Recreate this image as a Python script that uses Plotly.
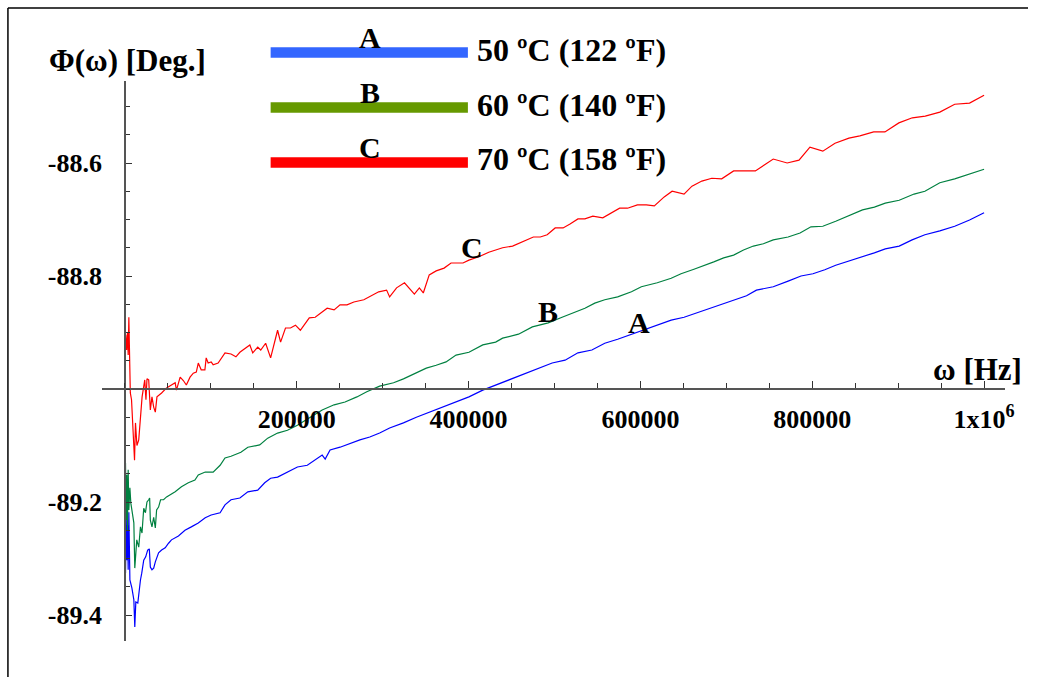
import plotly.graph_objects as go

W, H = 1037, 677
FONT = "Liberation Serif, Times New Roman, serif"

# ---------------- data ----------------
freq_A = [0, 700, 1500, 2300, 3000, 3800, 4600, 5800, 8100, 10400,
          11500, 12700, 15000, 16900, 18100, 19600, 21900, 24200, 26500, 28400,
          29600, 31500, 33500, 35400, 39200, 42700, 46900, 50800, 54200, 62300,
          69900, 77300, 85400, 93500, 100400, 110800, 116500, 123500, 133800, 143100,
          154600, 162700, 169600, 177700, 189200, 200800, 212300, 221500, 229600, 233100,
          238800, 250400, 261900, 273500, 285000, 296500, 308100, 324200, 339200, 354200,
          370400, 385400, 400400, 416500, 431500, 439600, 451200, 466200, 481200, 497300,
          512300, 527300, 543500, 558500, 573500, 589600, 604600, 619600, 635800, 650800,
          665800, 681900, 696900, 711900, 723500, 735000, 754600, 771900, 786900, 800800,
          814600, 827300, 843500, 856200, 872300, 885000, 901200, 916200, 931100, 948500,
          965800, 983100, 1000000]
phase_A = [-89.276, -89.326, -89.223, -89.303, -89.241, -89.320, -89.218, -89.338, -89.352, -89.373,
           -89.421, -89.377, -89.379, -89.350, -89.338, -89.326, -89.303, -89.297, -89.285, -89.283,
           -89.315, -89.320, -89.317, -89.306, -89.290, -89.285, -89.281, -89.273, -89.267, -89.260,
           -89.250, -89.244, -89.237, -89.228, -89.223, -89.219, -89.205, -89.196, -89.193, -89.182,
           -89.179, -89.166, -89.158, -89.156, -89.147, -89.138, -89.135, -89.126, -89.117, -89.124,
           -89.108, -89.103, -89.096, -89.090, -89.085, -89.078, -89.069, -89.060, -89.050, -89.041,
           -89.032, -89.023, -89.014, -89.002, -88.993, -88.988, -88.981, -88.972, -88.963, -88.954,
           -88.949, -88.936, -88.931, -88.919, -88.912, -88.903, -88.896, -88.887, -88.878, -88.873,
           -88.865, -88.857, -88.848, -88.841, -88.835, -88.825, -88.819, -88.809, -88.800, -88.796,
           -88.789, -88.781, -88.773, -88.768, -88.759, -88.752, -88.747, -88.736, -88.727, -88.720,
           -88.712, -88.701, -88.688]

freq_B = [0, 700, 1500, 2200, 3000, 3800, 4600, 5800, 6900, 10400,
          11500, 13800, 16100, 18100, 19900, 21900, 23900, 25700, 27700, 28800,
          29600, 31500, 33500, 35400, 36900, 39200, 41500, 45000, 48500, 58500,
          65800, 73800, 81500, 85400, 93500, 102700, 110800, 116500, 123500, 135000,
          143100, 156900, 166200, 177700, 189200, 200800, 215800, 229600, 243500, 256200,
          270000, 281500, 296500, 312700, 324200, 339200, 350800, 362300, 373800, 385400,
          400400, 416500, 431500, 439600, 458100, 474200, 492700, 508800, 523800, 535400,
          546900, 558500, 573500, 589600, 601100, 619600, 635800, 647300, 662300, 673800,
          685400, 696900, 708500, 720000, 731500, 743100, 754600, 771900, 785800, 798500,
          812300, 827300, 843500, 858500, 872300, 885000, 901200, 918500, 931100, 948500,
          965800, 983100, 1000000]
phase_B = [-89.179, -89.131, -89.232, -89.152, -89.250, -89.143, -89.214, -89.175, -89.202, -89.237,
           -89.317, -89.267, -89.280, -89.244, -89.255, -89.211, -89.219, -89.200, -89.196, -89.193,
           -89.232, -89.244, -89.227, -89.246, -89.214, -89.209, -89.196, -89.196, -89.191, -89.182,
           -89.173, -89.166, -89.161, -89.152, -89.147, -89.147, -89.135, -89.122, -89.119, -89.112,
           -89.103, -89.099, -89.087, -89.078, -89.073, -89.064, -89.050, -89.037, -89.028, -89.023,
           -89.014, -89.005, -88.995, -88.989, -88.982, -88.972, -88.963, -88.958, -88.952, -88.940,
           -88.935, -88.922, -88.917, -88.910, -88.903, -88.890, -88.883, -88.873, -88.864, -88.857,
           -88.848, -88.842, -88.837, -88.828, -88.819, -88.812, -88.804, -88.796, -88.788, -88.782,
           -88.775, -88.768, -88.763, -88.754, -88.747, -88.743, -88.736, -88.731, -88.724, -88.713,
           -88.712, -88.703, -88.692, -88.683, -88.678, -88.671, -88.666, -88.655, -88.650, -88.635,
           -88.628, -88.619, -88.611]

freq_C = [0, 1000, 2000, 3000, 3800, 4600, 5200, 5800, 6300, 7700,
          11200, 12300, 14000, 16100, 18100, 20000, 23100, 24500, 25700, 27700,
          29600, 31500, 33500, 35400, 37300, 39000, 42700, 48500, 54200, 58500,
          60000, 64300, 68000, 71500, 75800, 79600, 83100, 85400, 88800, 93100,
          94600, 96900, 100400, 102700, 108500, 114200, 116500, 123500, 129200, 133800,
          145400, 148800, 154600, 158100, 163800, 169600, 177700, 181200, 186900, 192700,
          198500, 204200, 214600, 221500, 229600, 235400, 243500, 250400, 258500, 266500,
          278100, 285000, 295400, 304600, 308100, 316200, 325400, 336900, 342700, 347300,
          354200, 362300, 371500, 379600, 393500, 400400, 411900, 423500, 431500, 439600,
          451200, 462700, 475400, 483500, 491500, 500800, 510000, 518100, 527300, 535400,
          544600, 556200, 566500, 575800, 585000, 596500, 606900, 616200, 627700, 636900,
          650800, 660000, 671500, 683100, 694600, 708500, 733800, 743100, 754600, 770800,
          784600, 797300, 812300, 826500, 842700, 855400, 871500, 884600, 900800, 916500,
          931500, 948500, 965800, 983100, 1000000]
phase_C = [-88.949, -88.904, -88.931, -88.901, -88.940, -88.873, -88.922, -88.952, -89.007, -89.019,
           -89.126, -89.060, -89.100, -89.090, -89.050, -89.014, -88.984, -89.019, -88.982, -88.984,
           -89.037, -89.014, -89.032, -89.041, -89.014, -89.012, -89.007, -88.998, -88.993, -88.989,
           -89.002, -88.979, -88.985, -88.993, -88.979, -88.972, -88.970, -88.954, -88.966, -88.966,
           -88.945, -88.954, -88.952, -88.957, -88.954, -88.941, -88.936, -88.938, -88.943, -88.935,
           -88.922, -88.936, -88.926, -88.931, -88.919, -88.945, -88.896, -88.917, -88.892, -88.892,
           -88.887, -88.896, -88.874, -88.873, -88.864, -88.857, -88.860, -88.851, -88.851, -88.846,
           -88.842, -88.837, -88.828, -88.825, -88.837, -88.821, -88.812, -88.832, -88.821, -88.830,
           -88.798, -88.791, -88.786, -88.777, -88.777, -88.772, -88.766, -88.758, -88.754, -88.750,
           -88.747, -88.740, -88.731, -88.731, -88.727, -88.715, -88.715, -88.708, -88.699, -88.699,
           -88.694, -88.697, -88.688, -88.680, -88.680, -88.674, -88.674, -88.676, -88.660, -88.650,
           -88.655, -88.641, -88.632, -88.627, -88.628, -88.614, -88.614, -88.604, -88.593, -88.600,
           -88.595, -88.572, -88.579, -88.565, -88.556, -88.552, -88.545, -88.545, -88.529, -88.520,
           -88.517, -88.510, -88.496, -88.494, -88.480]

series_names = ["A", "B", "C"]
legend_labels = ["50 ºC (122 ºF)", "60 ºC (140 ºF)", "70 ºC (158 ºF)"]
line_colors = ["#0000FF", "#008040", "#FF0000"]
legend_colors = ["#3366FF", "#669900", "#FF0000"]
curve_label_pos = [(598800, -88.883), (492700, -88.862), (403800, -88.750)]

x_tickvals = [200000, 400000, 600000, 800000, 1000000]
x_ticktext = ["200000", "400000", "600000", "800000", "1x10<sup>6</sup>"]
y_tickvals = [-89.4, -89.2, -88.8, -88.6]
y_ticktext = ["-89.4", "-89.2", "-88.8", "-88.6"]

# ---------------- geometry (pixels) ----------------
ORIGIN_X, ORIGIN_Y = 126, 389          # where the axes cross (x=0, y=-89)
PX_PER_HZ = 866.7 / 1e6
PX_PER_DEG = 565.0
XL, XR = 103, 1014                     # x axis line extent
YT, YB = 81, 641                       # y axis line extent

x_range = [(XL - ORIGIN_X) / PX_PER_HZ, (XR - ORIGIN_X) / PX_PER_HZ]
y_range = [-89 - (YB - ORIGIN_Y) / PX_PER_DEG, -89 + (ORIGIN_Y - YT) / PX_PER_DEG]


def px(p):
    return p / W


def py(p):
    return 1 - p / H


def bold(size):
    return dict(family=FONT, size=size, color="black", weight="bold")


fig = go.Figure()
for f, ph, c, n in zip([freq_A, freq_B, freq_C], [phase_A, phase_B, phase_C],
                       line_colors, series_names):
    fig.add_trace(go.Scatter(x=f, y=ph, mode="lines", name=n,
                             line=dict(color=c, width=1.2), showlegend=False))

axis_color = "#555555"

fig.update_layout(
    width=W, height=H,
    margin=dict(l=0, r=0, t=0, b=0),
    paper_bgcolor="white", plot_bgcolor="white",
    showlegend=False,
    xaxis=dict(domain=[px(XL), px(XR)], range=x_range, anchor="free",
               position=py(ORIGIN_Y), showline=True, linecolor=axis_color,
               linewidth=1.5, showgrid=False, zeroline=False,
               ticks="inside", ticklen=7, tickwidth=1.3, tickcolor="#333333",
               tickmode="array", tickvals=x_tickvals, ticktext=x_ticktext,
               tickfont=bold(26), ticklabelstandoff=7,
               minor=dict(ticks="inside", ticklen=5, tickwidth=1.2,
                          tickcolor="#333333", tick0=0, dtick=50000,
                          showgrid=False)),
    yaxis=dict(domain=[py(YB), py(YT)], range=y_range, anchor="free",
               position=px(ORIGIN_X), side="left", showline=True,
               linecolor=axis_color, linewidth=1.5, showgrid=False,
               zeroline=False, ticks="inside", ticklen=6, tickwidth=1.3,
               tickcolor="#333333", tickmode="array", tickvals=y_tickvals,
               ticktext=y_ticktext, tickfont=bold(26), ticklabelstandoff=17,
               minor=dict(ticks="inside", ticklen=4, tickwidth=1.2,
                          tickcolor="#333333", tick0=-89, dtick=0.05,
                          showgrid=False)),
)

shapes = [
    dict(type="line", xref="paper", yref="paper", x0=px(8), x1=1, y0=py(8), y1=py(8),
         line=dict(color="black", width=1.5)),
    dict(type="line", xref="paper", yref="paper", x0=px(8), x1=px(8), y0=0, y1=py(8),
         line=dict(color="black", width=1.5)),
]
annotations = []

legend_rows = [52.5, 107.5, 162.5]
for row, name, lab, col in zip(legend_rows, series_names, legend_labels, legend_colors):
    shapes.append(dict(type="rect", xref="paper", yref="paper",
                       x0=px(273), x1=px(472), y0=py(row - 5.3), y1=py(row + 5.3),
                       fillcolor=col, line=dict(width=0)))
    annotations.append(dict(xref="paper", yref="paper", x=px(373), y=py(row - 15),
                            text=name, showarrow=False, xanchor="center", yanchor="middle",
                            font=bold(30)))
    annotations.append(dict(xref="paper", yref="paper", x=px(479), y=py(row - 3),
                            text=lab, showarrow=False, xanchor="left", yanchor="middle",
                            font=bold(32)))

for name, (lx, ly) in zip(series_names, curve_label_pos):
    annotations.append(dict(xref="x", yref="y", x=lx, y=ly, text=name, showarrow=False,
                            xanchor="center", yanchor="middle", font=bold(30)))

annotations.append(dict(xref="paper", yref="paper", x=px(129), y=py(61),
                        text="Φ(ω) [Deg.]", showarrow=False, xanchor="center",
                        yanchor="middle", font=bold(31)))
annotations.append(dict(xref="paper", yref="paper", x=px(986), y=py(369),
                        text="ω [Hz]", showarrow=False, xanchor="center",
                        yanchor="middle", font=bold(31)))

fig.update_layout(shapes=shapes, annotations=annotations)
fig.write_html("out.html")
